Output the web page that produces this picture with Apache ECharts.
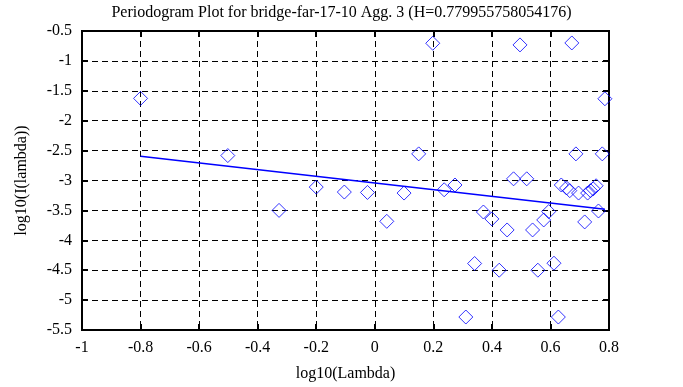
<!DOCTYPE html>
<html>
<head>
<meta charset="utf-8">
<script src="https://cdn.jsdelivr.net/npm/echarts@6/dist/echarts.min.js"></script>
<style>html,body{margin:0;padding:0;background:#fff;}#c{width:683px;height:387px;}</style>
</head>
<body>
<div id="c"></div>
<script>
var titleText = 'Periodogram Plot for bridge-far-17-10 Agg. 3 (H=0.779955758054176)';
var xName = 'log10(Lambda)';
var yName = 'log10(I(lambda))';
var xs = [-0.800,-0.502,-0.327,-0.200,-0.104,-0.025,0.041,0.100,0.150,0.198,0.237,0.274,0.311,0.341,0.371,0.400,0.425,0.452,0.474,0.496,0.519,0.539,0.557,0.577,0.594,0.612,0.627,0.637,0.655,0.666,0.673,0.687,0.696,0.717,0.727,0.737,0.746,0.756,0.764,0.777,0.786];
var ys = [-1.627,-2.583,-3.500,-3.110,-3.193,-3.200,-3.683,-3.210,-2.555,-0.705,-3.155,-3.075,-5.283,-4.388,-3.527,-3.643,-4.500,-3.827,-2.972,-0.733,-2.972,-3.827,-4.500,-3.660,-3.520,-4.383,-5.283,-3.075,-3.125,-3.170,-0.700,-2.555,-3.210,-3.693,-3.210,-3.170,-3.140,-3.088,-3.510,-2.555,-1.633];
var fitX = [-0.800, 0.786];
var fitY = [-2.593, -3.481];

var pts = xs.map(function(x,i){return [x, ys[i]];});
var fit = fitX.map(function(x,i){return [x, fitY[i]];});
var font = 'Liberation Serif';
function fmt(v){ var r = Math.round(v*10)/10; return String(r); }
var chart = echarts.init(document.getElementById('c'), null, {renderer:'canvas'});
var gridLine = {show:true, lineStyle:{color:'#000', width:1, type:[6,4]}};
chart.setOption({
  animation:false,
  backgroundColor:'#fff',
  title:{text:titleText, left:'center', top:0, textStyle:{fontFamily:font, fontSize:16, fontWeight:'normal', color:'#000'}},
  grid:{left:82, right:74, top:31, bottom:56, show:true, borderColor:'#000', borderWidth:2, backgroundColor:'transparent'},
  xAxis:[{type:'value', min:-1, max:0.8, interval:0.2, name:xName, nameLocation:'middle', nameGap:36,
          nameTextStyle:{fontFamily:font, fontSize:16, color:'#000'},
          axisLine:{show:true, onZero:false, lineStyle:{color:'#000', width:2}},
          axisTick:{show:true, inside:true, length:6, lineStyle:{color:'#000', width:2}},
          axisLabel:{fontFamily:font, fontSize:16, color:'#000', margin:10, formatter:fmt},
          splitLine:gridLine},
         {type:'value', position:'top', min:-1, max:0.8, interval:0.2,
          axisLine:{show:true, onZero:false, lineStyle:{color:'#000', width:2}},
          axisTick:{show:true, inside:true, length:6, lineStyle:{color:'#000', width:2}},
          axisLabel:{show:false}, splitLine:{show:false}}],
  yAxis:[{type:'value', min:-5.5, max:-0.5, interval:0.5, name:yName, nameLocation:'middle', nameGap:52, nameRotate:90,
          nameTextStyle:{fontFamily:font, fontSize:16, color:'#000'},
          axisLine:{show:true, onZero:false, lineStyle:{color:'#000', width:2}},
          axisTick:{show:true, inside:true, length:6, lineStyle:{color:'#000', width:2}},
          axisLabel:{fontFamily:font, fontSize:16, color:'#000', margin:10, formatter:fmt},
          splitLine:gridLine},
         {type:'value', position:'right', min:-5.5, max:-0.5, interval:0.5,
          axisLine:{show:true, onZero:false, lineStyle:{color:'#000', width:2}},
          axisTick:{show:true, inside:true, length:6, lineStyle:{color:'#000', width:2}},
          axisLabel:{show:false}, splitLine:{show:false}}],
  series:[
    {type:'scatter', data:pts, symbol:'diamond', symbolSize:14,
     itemStyle:{color:'transparent', borderColor:'#0000ff', borderWidth:1}},
    {type:'line', data:fit, symbol:'none', lineStyle:{color:'#0000ff', width:1.5}}
  ]
});
</script>
</body>
</html>
